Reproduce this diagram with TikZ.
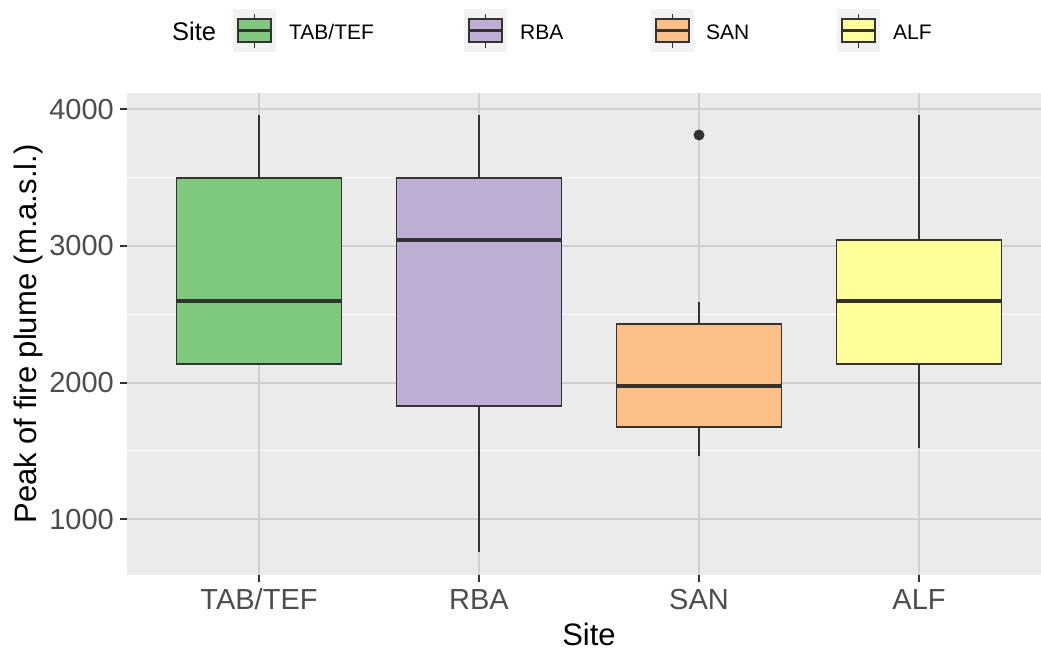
\documentclass[tikz,border=0pt]{standalone}
\usepackage{fontspec}
\setmainfont{Liberation Sans}
\definecolor{panelbg}{HTML}{EBEBEB}
\definecolor{gridmaj}{HTML}{D0D0D0}
\definecolor{ink}{HTML}{333333}
\definecolor{ticktext}{HTML}{4D4D4D}
\definecolor{keybg}{HTML}{F2F2F2}
\definecolor{cTAB}{HTML}{7FC97F}
\definecolor{cRBA}{HTML}{BEAED4}
\definecolor{cSAN}{HTML}{FDC086}
\definecolor{cALF}{HTML}{FFFF99}
\tikzset{
  x=1pt, y=-1pt,
  declare function={Y(\v)=109.3+(4000-\v)*0.136667;},
  majorgrid/.style={gridmaj, line width=1.8pt},
  minorgrid/.style={white, line width=1pt},
  boxbody/.style={draw=ink, line width=1.9pt},
  medianline/.style={ink, line width=4pt},
  whisker/.style={ink, line width=1.8pt},
  tickmark/.style={ink, line width=1.8pt},
  ticklabel/.style={text=ticktext, font=\fontsize{29}{34}\selectfont, inner sep=0pt},
  axistitle/.style={text=black, font=\fontsize{31}{36}\selectfont, inner sep=0pt},
  legendtext/.style={text=black, font=\fontsize{21}{25}\selectfont, inner sep=0pt, anchor=base west},
  legendtitle/.style={text=black, font=\fontsize{25.5}{30}\selectfont, inner sep=0pt, anchor=base west},
}
% one boxplot: centre x, lower whisker, Q1, median, Q3, upper whisker, colour
\newcommand{\boxplotat}[7]{%
  \draw[whisker] (#1,{Y(#6)}) -- (#1,{Y(#5)});
  \draw[whisker] (#1,{Y(#3)}) -- (#1,{Y(#2)});
  \filldraw[boxbody, fill=#7] (#1-82.5,{Y(#3)}) rectangle (#1+82.5,{Y(#5)});
  \draw[medianline] (#1-82.5,{Y(#4)}) -- (#1+82.5,{Y(#4)});
}
% one legend key: left edge x, colour
\newcommand{\legendkeyat}[2]{%
  \fill[keybg] (#1,9) rectangle (#1+43,52);
  \draw[whisker] (#1+21.5,14) -- (#1+21.5,48);
  \filldraw[boxbody, fill=#2] (#1+5,19) rectangle (#1+38,42);
  \draw[ink, line width=2.6pt] (#1+5,30.5) -- (#1+38,30.5);
}
\begin{document}
\begin{tikzpicture}
\fill[white] (0,0) rectangle (1041,651);
\useasboundingbox (0,0) rectangle (1041,651);

% panel and grid
\fill[panelbg] (127,92.7) rectangle (1041,575);
\begin{scope}
  \clip (127,92.7) rectangle (1041,575);
  \foreach \v in {1500,2500,3500}
    \draw[minorgrid] (127,{Y(\v)}) -- (1041,{Y(\v)});
  \foreach \v in {1000,2000,3000,4000}
    \draw[majorgrid] (127,{Y(\v)}) -- (1041,{Y(\v)});
  \foreach \cx in {259,479,699,919}
    \draw[majorgrid] (\cx,92.7) -- (\cx,575);

  % boxes
  \boxplotat{259}{2139}{2139}{2600}{3500}{3958}{cTAB}
  \boxplotat{479}{759}{1827}{3047}{3500}{3958}{cRBA}
  \boxplotat{699}{1463}{1673}{1978}{2432}{2592}{cSAN}
  \boxplotat{919}{1522}{2139}{2600}{3047}{3958}{cALF}
  \fill[ink] (699,{Y(3812)}) circle (5.5);
\end{scope}

% y axis ticks and labels
\foreach \v/\nm in {1000/ya,2000/yb,3000/yc,4000/yd}{
  \draw[tickmark] (120,{Y(\v)}) -- (127,{Y(\v)});
  \node[ticklabel, anchor=east] (\nm) at (114,{Y(\v)}) {\v};
}
% x axis ticks and labels
\foreach \cx/\lab/\nm in {259/TAB\slash TEF/xa,479/RBA/xb,699/SAN/xc,919/ALF/xd}{
  \draw[tickmark] (\cx,575) -- (\cx,582);
  \node[ticklabel, anchor=base] (\nm) at (\cx,609) {\lab};
}

% axis titles
\node[axistitle, anchor=base] (xtitle) at (589,645) {Site};
\node[axistitle, rotate=90] (ytitle) at (28,334) {Peak of fire plume (m.a.s.l.)};

% legend
\node[legendtitle] (legtitle) at (172,40) {Site};
\legendkeyat{233}{cTAB}
\node[legendtext] (legTAB) at (289,39.5) {TAB/TEF};
\legendkeyat{464}{cRBA}
\node[legendtext] (legRBA) at (520,39.5) {RBA};
\legendkeyat{651}{cSAN}
\node[legendtext] (legSAN) at (706,39.5) {SAN};
\legendkeyat{837}{cALF}
\node[legendtext] (legALF) at (893,39.5) {ALF};
\end{tikzpicture}
\end{document}
